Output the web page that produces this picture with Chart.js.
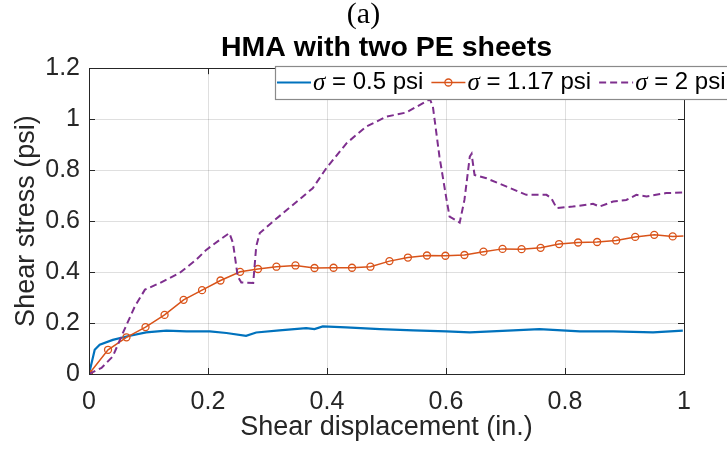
<!DOCTYPE html>
<html><head><meta charset="utf-8">
<script src="https://cdn.jsdelivr.net/npm/chart.js@4/dist/chart.umd.min.js"></script>
<style>html,body{margin:0;padding:0;background:#fff;}#wrap{width:727px;height:453px;}</style>
</head><body><div id="wrap"><canvas id="c" width="727" height="453"></canvas></div>
<script>
// ---- data ----
const xTicks = [0, 0.2, 0.4, 0.6, 0.8, 1];
const yTicks = [0, 0.2, 0.4, 0.6, 0.8, 1, 1.2];
const seriesLabels = ['\u03c3 = 0.5 psi', '\u03c3 = 1.17 psi', '\u03c3 = 2 psi'];

const dispA = [0, 0.0096, 0.018, 0.040, 0.063, 0.096, 0.130, 0.164, 0.203, 0.231, 0.264, 0.281, 0.320, 0.365, 0.379, 0.393, 0.432, 0.489, 0.545, 0.601, 0.640, 0.713, 0.757, 0.825, 0.881, 0.948, 0.998];
const stressA = [0, 0.095, 0.115, 0.134, 0.147, 0.163, 0.170, 0.167, 0.167, 0.161, 0.150, 0.163, 0.171, 0.180, 0.176, 0.187, 0.183, 0.176, 0.171, 0.167, 0.163, 0.171, 0.176, 0.167, 0.167, 0.163, 0.170];

const dispB = [0, 0.032, 0.063, 0.095, 0.127, 0.159, 0.190, 0.221, 0.254, 0.284, 0.315, 0.347, 0.379, 0.411, 0.442, 0.473, 0.505, 0.536, 0.568, 0.599, 0.631, 0.663, 0.695, 0.727, 0.759, 0.790, 0.822, 0.854, 0.886, 0.918, 0.950, 0.981, 0.999];
const stressB = [0, 0.095, 0.144, 0.184, 0.232, 0.291, 0.329, 0.367, 0.401, 0.412, 0.421, 0.426, 0.416, 0.417, 0.417, 0.421, 0.443, 0.457, 0.465, 0.464, 0.467, 0.480, 0.491, 0.490, 0.495, 0.510, 0.516, 0.518, 0.524, 0.538, 0.546, 0.540, 0.542];

const dispC = [0, 0.021, 0.040, 0.057, 0.077, 0.094, 0.119, 0.152, 0.180, 0.197, 0.220, 0.236, 0.242, 0.250, 0.256, 0.276, 0.281, 0.287, 0.309, 0.343, 0.376, 0.399, 0.433, 0.466, 0.500, 0.533, 0.573, 0.578, 0.589, 0.601, 0.606, 0.623, 0.631, 0.640, 0.643, 0.648, 0.668, 0.701, 0.735, 0.769, 0.777, 0.786, 0.813, 0.847, 0.858, 0.881, 0.903, 0.920, 0.937, 0.970, 0.998];
const stressC = [0, 0.024, 0.069, 0.161, 0.265, 0.331, 0.357, 0.396, 0.448, 0.487, 0.527, 0.553, 0.514, 0.383, 0.359, 0.357, 0.500, 0.553, 0.598, 0.664, 0.729, 0.808, 0.906, 0.971, 1.010, 1.026, 1.078, 1.049, 0.853, 0.683, 0.618, 0.594, 0.683, 0.853, 0.864, 0.781, 0.768, 0.736, 0.703, 0.703, 0.690, 0.651, 0.657, 0.668, 0.657, 0.677, 0.683, 0.703, 0.697, 0.710, 0.712];

// ---- helpers ----
const pts = (xs, ys) => xs.map((x, i) => ({x: x, y: ys[i]}));
const fmt = v => String(Math.round(v * 10) / 10);
const SANS = "'Liberation Sans', Arial, sans-serif";
const AX = '#262626';

const bgPlugin = {
  id: 'bg',
  beforeDraw(chart) {
    const c = chart.ctx; c.save(); c.fillStyle = '#fff';
    c.fillRect(0, 0, chart.width, chart.height); c.restore();
  }
};

const boxPlugin = {
  id: 'box',
  afterDatasetsDraw(chart) {
    const c = chart.ctx;
    const {left, right, top, bottom} = chart.chartArea;
    const xs = chart.scales.x, ys = chart.scales.y;
    const T = 6;
    c.save();
    c.strokeStyle = AX; c.lineWidth = 1;
    c.strokeRect(Math.round(left) + 0.5, Math.round(top) + 0.5, Math.round(right - left), Math.round(bottom - top));
    c.beginPath();
    xTicks.forEach(v => {
      const p = Math.round(xs.getPixelForValue(v)) + 0.5;
      c.moveTo(p, bottom); c.lineTo(p, bottom - T);
      c.moveTo(p, top); c.lineTo(p, top + T);
    });
    yTicks.forEach(v => {
      const p = Math.round(ys.getPixelForValue(v)) + 0.5;
      c.moveTo(left, p); c.lineTo(left + T, p);
      c.moveTo(right, p); c.lineTo(right - T, p);
    });
    c.stroke();
    c.restore();
  }
};

const legendPlugin = {
  id: 'customLegend',
  afterDraw(chart) {
    const c = chart.ctx;
    const bx = 275, by = 66, bh = 33;
    c.save();
    c.fillStyle = '#fff';
    c.fillRect(bx, by, chart.width - bx + 5, bh);
    c.strokeStyle = '#8a8a8a'; c.lineWidth = 1.2;
    c.strokeRect(bx + 0.5, by + 0.5, chart.width - bx + 5, bh);
    const cy = by + bh / 2;
    let x = bx + 2;
    chart.data.datasets.forEach(ds => {
      const sw = 34;
      c.strokeStyle = ds.borderColor; c.lineWidth = ds.borderWidth;
      c.setLineDash(ds.borderDash || []);
      c.beginPath(); c.moveTo(x, cy); c.lineTo(x + sw, cy); c.stroke();
      c.setLineDash([]);
      if (ds.legendMarker) {
        c.lineWidth = ds.pointBorderWidth;
        c.beginPath(); c.arc(x + sw / 2, cy, 3.5, 0, Math.PI * 2); c.stroke();
      }
      x += sw + 2;
      const sig = ds.label.charAt(0), rest = ds.label.slice(1);
      c.fillStyle = '#000'; c.textBaseline = 'middle'; c.textAlign = 'left';
      c.font = "italic 25px 'Liberation Serif', serif";
      c.fillText(sig, x, cy + 1);
      x += c.measureText(sig).width;
      c.font = '24px ' + SANS;
      c.fillText(rest, x, cy);
      x += c.measureText(rest).width + 8;
    });
    c.restore();
  }
};

new Chart(document.getElementById('c'), {
  type: 'line',
  data: {
    datasets: [
      {label: seriesLabels[0], data: pts(dispA, stressA), borderColor: '#0072BD', borderWidth: 2.2,
       pointRadius: 0, tension: 0, order: 2},
      {label: seriesLabels[1], data: pts(dispB, stressB), borderColor: '#D95319', borderWidth: 1.5,
       pointRadius: ctx => (ctx.dataIndex === dispB.length - 1 ? 0 : 3.5), pointBorderWidth: 1.3,
       pointBorderColor: '#D95319', pointBackgroundColor: 'rgba(0,0,0,0)', pointStyle: 'circle',
       tension: 0, order: 1, legendMarker: true},
      {label: seriesLabels[2], data: pts(dispC, stressC), borderColor: '#7E2F8E', borderWidth: 2,
       borderDash: [7, 4], pointRadius: 0, tension: 0, order: 0}
    ]
  },
  options: {
    responsive: false, animation: false, devicePixelRatio: 1, events: [],
    layout: {padding: {left: 0, right: 0, top: 0, bottom: 0}},
    plugins: {
      legend: {display: false}, tooltip: {enabled: false},
      title: {display: true, fullSize: true, text: '(a)', color: '#000',
        font: {family: "'Liberation Serif', 'Times New Roman', serif", size: 30, weight: 'normal', lineHeight: 1},
        padding: {top: 0, bottom: 0}},
      subtitle: {display: true, fullSize: false, text: 'HMA with two PE sheets', color: '#000',
        font: {family: SANS, size: 28.5, weight: 'bold', lineHeight: 1.2},
        padding: {top: 1, bottom: 3}}
    },
    scales: {
      x: {
        type: 'linear', min: 0, max: 1,
        afterBuildTicks: s => { s.ticks = xTicks.map(v => ({value: v})); },
        afterFit: s => { s.height = 79; },
        ticks: {callback: v => fmt(v), color: AX, font: {family: SANS, size: 25}, padding: 13, maxRotation: 0, autoSkip: false},
        grid: {color: 'rgba(38,38,38,0.15)', drawTicks: false},
        border: {display: false},
        title: {display: true, text: 'Shear displacement (in.)', color: AX,
          font: {family: SANS, size: 27}, padding: {top: 0, bottom: 9}}
      },
      y: {
        type: 'linear', min: 0, max: 1.2,
        afterBuildTicks: s => { s.ticks = yTicks.map(v => ({value: v})); },
        afterFit: s => { s.width = 89; },
        ticks: {callback: v => fmt(v), color: AX, font: {family: SANS, size: 25}, padding: 9, autoSkip: false},
        grid: {color: 'rgba(38,38,38,0.15)', drawTicks: false},
        border: {display: false},
        title: {display: true, text: 'Shear stress (psi)', color: AX,
          font: {family: SANS, size: 27}, padding: {top: 10, bottom: 0}}
      },
      yRight: {
        type: 'linear', axis: 'y', position: 'right', min: 0, max: 1.2,
        afterFit: s => { s.width = 43; },
        ticks: {display: false}, grid: {display: false}, border: {display: false}, title: {display: false}
      }
    }
  },
  plugins: [bgPlugin, boxPlugin, legendPlugin]
});
</script>
</body></html>
